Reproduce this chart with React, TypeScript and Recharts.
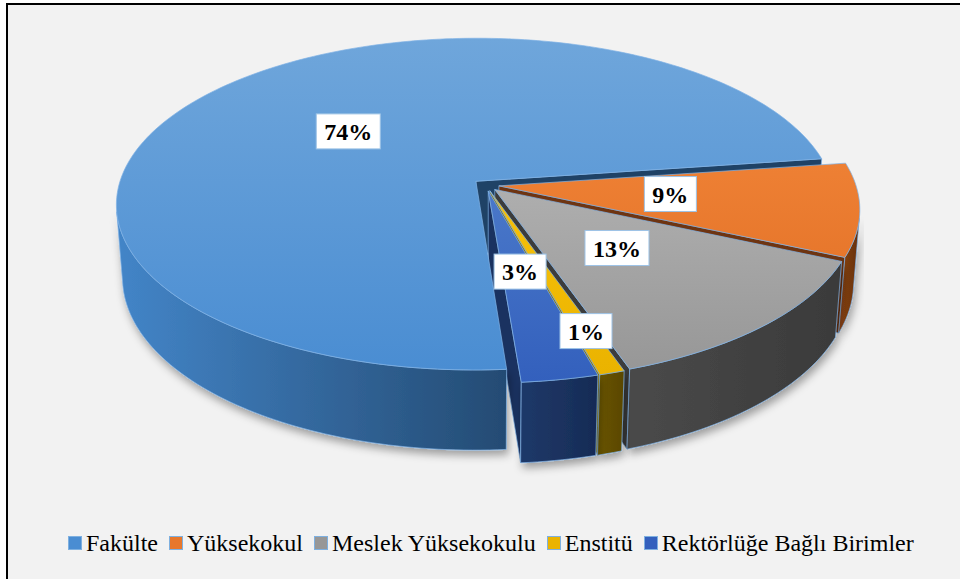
import React from "react";
import { PieChart, Pie, Legend } from "recharts";

const categories = [
  "Fakülte",
  "Yüksekokul",
  "Meslek Yüksekokulu",
  "Enstitü",
  "Rektörlüğe Bağlı Birimler",
];
const shares = [74, 9, 13, 1, 3];

const data = categories.map((name, i) => ({ name, value: shares[i] }));

// colours: [top light, top dark], wall [light, dark], radial face
const TOP = [
  ["#6fa6db", "#4a8dd2"],
  ["#ee8034", "#e7772c"],
  ["#aeaeae", "#979797"],
  ["#f7c10a", "#eab300"],
  ["#4a78c9", "#3360bd"],
];
const WALL = [
  ["#4385c8", "#244b73"],
  ["#8a4414", "#66300b"],
  ["#4a4a4a", "#3a3a3a"],
  ["#6b5600", "#594600"],
  ["#1f3969", "#162b55"],
];
const FACE = ["#1f4266", "#6e3411", "#3c3c3c", "#8f7300", "#1a3260"];
const EDGE = "#7fb2e5";
const SERIF = '"Liberation Serif", serif';

// 3D look
const TILT = (27.3 * Math.PI) / 180;
const DIST = 2300;
const DEPTH = 83;
const EXPLODE = 13;

const rad = (d: number) => (d * Math.PI) / 180;

function proj(cx: number, cy: number, X: number, Y: number, Z: number) {
  const yc = Y * Math.sin(TILT) + Z * Math.cos(TILT);
  const zc = Y * Math.cos(TILT) - Z * Math.sin(TILT);
  const s = DIST / (DIST + zc);
  return [cx + X * s, cy - yc * s];
}

const toPath = (pts: number[][]) =>
  pts.map((p, i) => (i ? "L" : "M") + p[0].toFixed(2) + "," + p[1].toFixed(2)).join(" ") + " Z";

function geom(p: any) {
  const a0 = p.startAngle as number;
  const a1 = p.endAngle as number;
  const mid = (a0 + a1) / 2;
  const name = p.name ?? p.payload?.name;
  return {
    cx: p.cx as number,
    cy: p.cy as number,
    r: p.outerRadius as number,
    a0,
    a1,
    ox: EXPLODE * Math.cos(rad(mid)),
    oy: EXPLODE * Math.sin(rad(mid)),
    idx: Math.max(0, categories.indexOf(name)),
  };
}

function arcAngles(a0: number, a1: number) {
  const n = Math.max(2, Math.ceil(Math.abs(a1 - a0) / 1.2));
  const out: number[] = [];
  for (let i = 0; i <= n; i++) out.push(a0 + ((a1 - a0) * i) / n);
  return out;
}

function FaceShape(p: any) {
  const g = geom(p);
  const lo = Math.min(g.a0, g.a1);
  const hi = Math.max(g.a0, g.a1);
  const faces: React.ReactNode[] = [];
  [
    [hi, hi + 90],
    [lo, lo - 90],
  ].forEach(([a, b], k) => {
    const nb = rad(b);
    const vis = -g.ox * Math.cos(nb) - (DIST * Math.cos(TILT) + g.oy) * Math.sin(nb) > 0;
    if (!vis) return;
    const ex = g.ox + g.r * Math.cos(rad(a));
    const ey = g.oy + g.r * Math.sin(rad(a));
    const pts = [
      proj(g.cx, g.cy, g.ox, g.oy, 0),
      proj(g.cx, g.cy, ex, ey, 0),
      proj(g.cx, g.cy, ex, ey, -DEPTH),
      proj(g.cx, g.cy, g.ox, g.oy, -DEPTH),
    ];
    faces.push(
      <path key={k} d={toPath(pts)} fill={FACE[g.idx]} stroke={EDGE} strokeWidth={0.7} />
    );
  });
  return <g>{faces}</g>;
}

function WallShape(p: any) {
  const g = geom(p);
  const visible = (a: number) =>
    -g.ox * Math.cos(rad(a)) - g.oy * Math.sin(rad(a)) - g.r - DIST * Math.cos(TILT) * Math.sin(rad(a)) > 0;
  const angs = arcAngles(g.a0, g.a1).filter(visible);
  if (angs.length < 2) return <g />;
  const top = angs.map((a) =>
    proj(g.cx, g.cy, g.ox + g.r * Math.cos(rad(a)), g.oy + g.r * Math.sin(rad(a)), 0)
  );
  const bot = angs
    .map((a) => proj(g.cx, g.cy, g.ox + g.r * Math.cos(rad(a)), g.oy + g.r * Math.sin(rad(a)), -DEPTH))
    .reverse();
  return (
    <path
      d={toPath([...top, ...bot])}
      fill={`url(#wall-${g.idx})`}
      stroke={EDGE}
      strokeWidth={0.7}
      filter="url(#pieShadow)"
    />
  );
}

function TopShape(p: any) {
  const g = geom(p);
  const pts = [proj(g.cx, g.cy, g.ox, g.oy, 0)];
  arcAngles(g.a0, g.a1).forEach((a) =>
    pts.push(proj(g.cx, g.cy, g.ox + g.r * Math.cos(rad(a)), g.oy + g.r * Math.sin(rad(a)), 0))
  );
  return <path d={toPath(pts)} fill={`url(#top-${g.idx})`} stroke={EDGE} strokeWidth={0.7} />;
}

function renderLabel(p: any) {
  const mid = p.midAngle as number;
  const pct = p.percent as number;
  const frac = pct < 0.02 ? 0.81 : 0.48;
  const ox = EXPLODE * Math.cos(rad(mid));
  const oy = EXPLODE * Math.sin(rad(mid));
  const rr = p.outerRadius * frac;
  const [x, yy] = proj(p.cx, p.cy, ox + rr * Math.cos(rad(mid)), oy + rr * Math.sin(rad(mid)), 0);
  const y = yy - 3;
  const text = `${p.value}%`;
  const em = text.split("").reduce((s: number, ch: string) => s + (ch === "%" ? 1 : 0.5), 0);
  const w = em * 24 + 16;
  const h = 35;
  return (
    <g>
      <rect x={x - w / 2} y={y - h / 2} width={w} height={h} fill="#ffffff" stroke="#9dc3e6" strokeWidth={1} />
      <text
        x={x}
        y={y + 8.5}
        textAnchor="middle"
        fontFamily={SERIF}
        fontWeight="bold"
        fontSize={24}
        fill="#000"
      >
        {text}
      </text>
    </g>
  );
}

function renderLegend() {
  return (
    <div
      style={{
        display: "flex",
        alignItems: "center",
        fontFamily: SERIF,
        fontSize: 24,
        lineHeight: "26px",
        color: "#000",
        whiteSpace: "nowrap",
      }}
    >
      {categories.map((name, i) => (
        <span key={name} style={{ display: "flex", alignItems: "center", marginRight: 11 }}>
          <svg width={14} height={14} style={{ marginRight: 4 }}>
            <rect x={0.5} y={0.5} width={13} height={13} fill={TOP[i][1]} stroke="#7eb0e0" />
          </svg>
          {name}
        </span>
      ))}
    </div>
  );
}

export default function App() {
  const pieProps = {
    data,
    dataKey: "value",
    nameKey: "name",
    cx: 486,
    cy: 185,
    outerRadius: 357,
    startAngle: 274.5,
    endAngle: 274.5 - 360,
    isAnimationActive: false,
  };
  return (
    <div style={{ position: "absolute", left: 0, top: 0, width: 960, height: 579, background: "#fff", overflow: "hidden" }}>
      <div
        style={{
          position: "absolute",
          left: 6,
          top: 3,
          width: 980,
          height: 600,
          background: "#f2f2f2",
          borderLeft: "2px solid #000",
          borderTop: "2px solid #000",
        }}
      />
      <div style={{ position: "absolute", left: 0, top: 0 }}>
        <PieChart width={960} height={579} margin={{ top: 0, right: 0, bottom: 0, left: 0 }}>
          <defs>
            <filter id="pieShadow" x="-20%" y="-20%" width="140%" height="160%">
              <feDropShadow dx={2} dy={5} stdDeviation={4} floodColor="#000" floodOpacity={0.35} />
            </filter>
            {TOP.map((c, i) => (
              <linearGradient key={`t${i}`} id={`top-${i}`} x1="0" y1="0" x2="0" y2="1">
                <stop offset="0%" stopColor={c[0]} />
                <stop offset="100%" stopColor={c[1]} />
              </linearGradient>
            ))}
            {WALL.map((c, i) => (
              <linearGradient key={`w${i}`} id={`wall-${i}`} x1="0" y1="0" x2="1" y2="0">
                <stop offset="0%" stopColor={c[0]} />
                <stop offset="100%" stopColor={c[1]} />
              </linearGradient>
            ))}
          </defs>
          <Pie
            {...pieProps}
            legendType="none"
            label={false}
            labelLine={false}
            shape={FaceShape}
            activeShape={FaceShape}
            inactiveShape={FaceShape}
          />
          <Pie
            {...pieProps}
            legendType="none"
            label={false}
            labelLine={false}
            shape={WallShape}
            activeShape={WallShape}
            inactiveShape={WallShape}
          />
          <Pie
            {...pieProps}
            legendType="square"
            label={renderLabel}
            labelLine={false}
            shape={TopShape}
            activeShape={TopShape}
            inactiveShape={TopShape}
          />
          <Legend
            content={renderLegend}
            wrapperStyle={{ position: "absolute", left: 68, top: 530, width: "auto", height: 26 }}
          />
        </PieChart>
      </div>
    </div>
  );
}
